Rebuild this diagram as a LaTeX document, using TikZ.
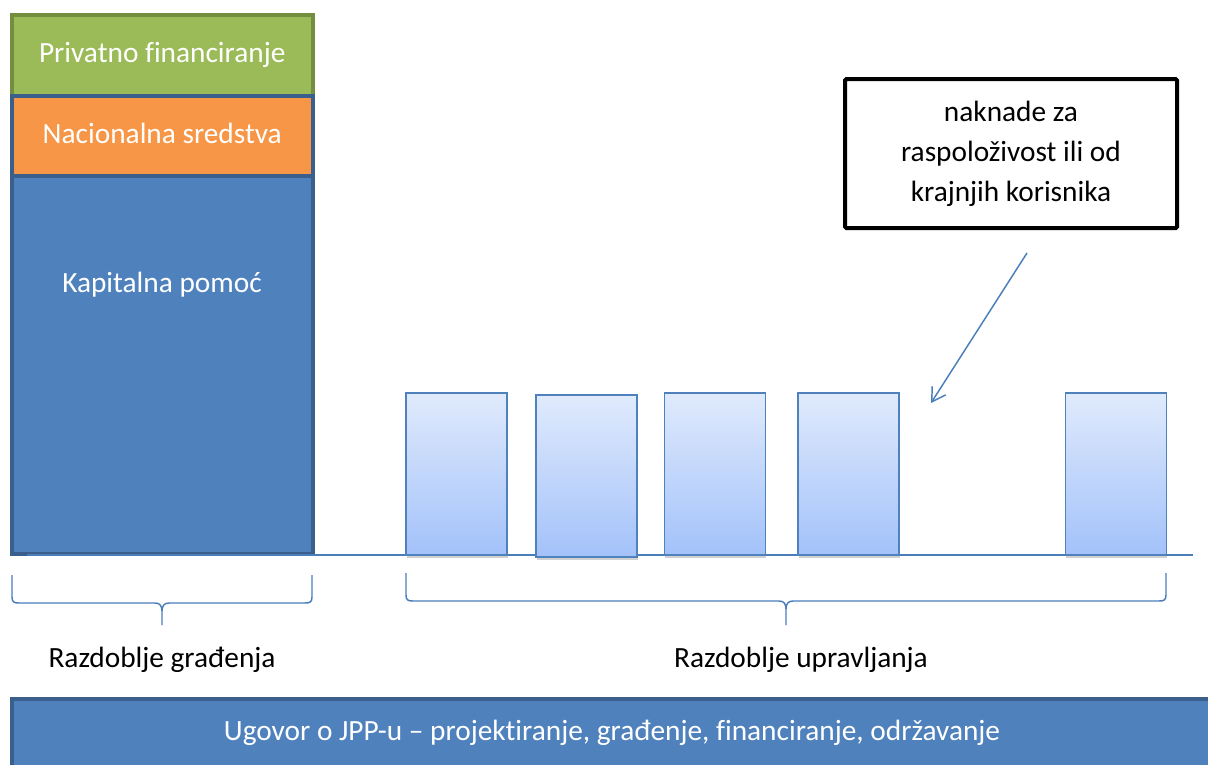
\documentclass[tikz,border=0pt]{standalone}
\usepackage{fontspec}
\setmainfont[Ligatures=NoCommon]{Carlito}
\usetikzlibrary{arrows.meta,shadows}
\definecolor{greenfill}{HTML}{9BBB59}
\definecolor{greenline}{HTML}{748E3F}
\definecolor{orangefill}{HTML}{F79646}
\definecolor{bluefill}{HTML}{4F81BD}
\definecolor{blueline}{HTML}{3A5F8C}
\definecolor{thinblue}{HTML}{4A7EBB}
\definecolor{paytop}{HTML}{E0EAFC}
\definecolor{paybot}{HTML}{A3C2FA}
\begin{document}
\begin{tikzpicture}[x=0.75pt,y=-0.75pt,
  bigfont/.style={font=\fontsize{22pt}{30pt}\selectfont},
  colbox/.style={bigfont, text=white, line width=3pt, minimum width=225.4pt,
    inner sep=0pt, outer sep=0pt, text height=15pt, text depth=4.5pt},
  whitetxt/.style={bigfont, text=white, inner sep=0pt},
  lbl/.style={bigfont, text=black, inner sep=0pt},
  paybox/.style={draw=bluefill, line width=1.4pt, top color=paytop, bottom color=paybot,
    minimum width=75.75pt, minimum height=121.5pt, inner sep=0pt, outer sep=0pt,
    drop shadow={shadow xshift=0.6pt, shadow yshift=-2pt, opacity=0.18, fill=black}},
  bracepath/.style={draw=thinblue, line width=1.1pt},
  callout/.style={bigfont, draw=black, line width=3pt, rounded corners=1pt,
    minimum width=249pt, minimum height=111.75pt, align=center, inner sep=0pt},
  pointer/.style={draw=thinblue, line width=1.1pt,
    -{Straight Barb[length=10pt,width=12pt,line width=1.1pt]}}
]
\useasboundingbox (0,0) rectangle (1208,765);

% left column
\node[colbox, fill=greenfill, draw=greenline, minimum height=60.4pt] (priv) at (162.25,55.75) {Privatno financiranje};
\node[colbox, fill=orangefill, draw=blueline, minimum height=60pt] (nac) at (162.25,136) {Nacionalna sredstva};
\node[colbox, fill=bluefill, draw=blueline, minimum height=283.5pt] (kap) at (162.25,365) {};
\node[whitetxt, anchor=base] (kaptxt) at (162,292.5) {Kapitalna pomoć};

% time line
\coordinate (linestart) at (27,555);
\coordinate (lineend) at (1193,555);
\draw[thinblue, line width=1.1pt] (linestart) -- (lineend);

% payment boxes
\node[paybox] (p1) at (456.5,474) {};
\node[paybox] (p2) at (586.5,476) {};
\node[paybox] (p3) at (715,474) {};
\node[paybox] (p4) at (848.5,474) {};
\node[paybox] (p5) at (1116,474) {};

% callout
\node[callout] (fee) at (1011,153.5) {naknade za\\raspoloživost ili od\\krajnjih korisnika};
\coordinate (arrs) at (1027,253);
\coordinate (arre) at (931,403);
\draw[pointer] (arrs) -- (arre);

% braces
\draw[bracepath] (12,575) -- (12,597) .. controls (12,602) and (14,603) .. (19,603) -- (155,603)
  .. controls (160,603) and (162,606) .. (162,611) -- (162,625);
\draw[bracepath] (312,575) -- (312,597) .. controls (312,602) and (310,603) .. (305,603) -- (169,603)
  .. controls (164,603) and (162,606) .. (162,611);
\draw[bracepath] (406,573) -- (406,595) .. controls (406,600) and (408,601) .. (413,601) -- (779,601)
  .. controls (784,601) and (786,604) .. (786,609) -- (786,625);
\draw[bracepath] (1166,573) -- (1166,595) .. controls (1166,600) and (1164,601) .. (1159,601) -- (793,601)
  .. controls (788,601) and (786,604) .. (786,609);

% labels
\node[lbl, anchor=base] (gradlbl) at (162,667) {Razdoblje građenja};
\node[lbl, anchor=base] (upravlbl) at (801,667) {Razdoblje upravljanja};

% contract bar
\fill[bluefill] (10,697) rectangle (1208,765);
\draw[blueline, line width=3pt] (12,765) -- (12,699) -- (1208,699);
\node[whitetxt, anchor=base] (ugovor) at (612,740) {Ugovor o JPP-u – projektiranje, građenje, financiranje, održavanje};
\end{tikzpicture}
\end{document}
